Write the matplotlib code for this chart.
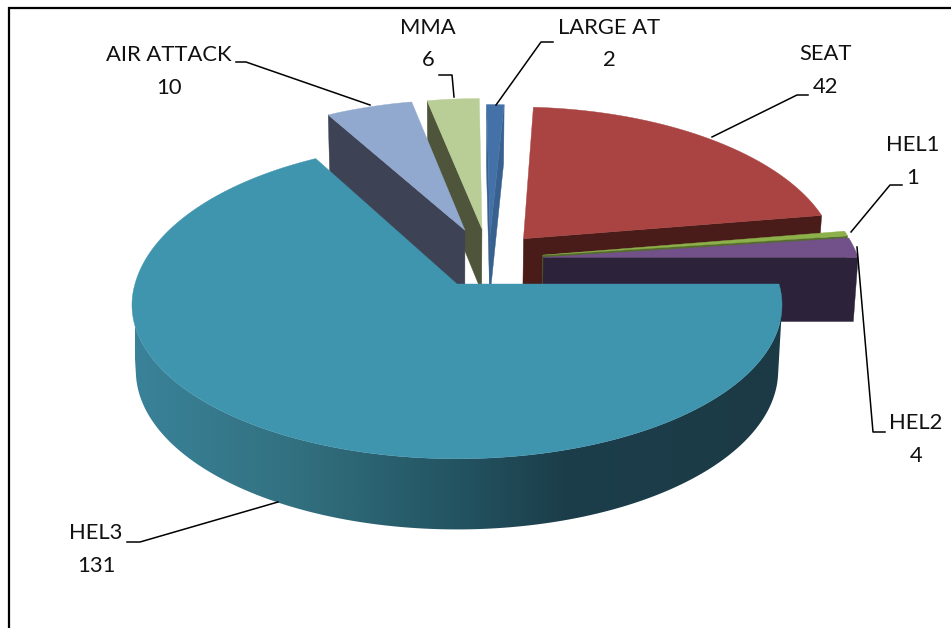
import numpy as np
import matplotlib
matplotlib.use('Agg')
import matplotlib.pyplot as plt
from matplotlib.colors import LinearSegmentedColormap
from matplotlib.patches import Polygon

names = ['LARGE AT', 'SEAT', 'HEL1', 'HEL2', 'HEL3', 'AIR ATTACK', 'MMA']
values = [2, 42, 1, 4, 131, 10, 6]
top_colors = ['#4472A8', '#A94442', '#8CB04A', '#725089', '#3F94AE', '#92A9CF', '#B9CD96']
wall_colors = ['#38618F', '#4A1C19', '#556B2F', '#2C2239', '#1B3B47', '#3D4355', '#4F553B']

# back slices first, HEL3 sits on top of everything
draw_order = ['LARGE AT', 'MMA', 'AIR ATTACK', 'SEAT', 'HEL1', 'HEL2', 'HEL3']

# pie geometry, in pixels
CX, CY = 457, 284
RX = 322
RY_BACK, RY_FRONT = 161, 151
DEPTH = 65
PERSP = 0.136
SQUEEZE = 0.012
EXPLODE = 0.1825
# small corrections the simple perspective above does not get right
nudge = {'LARGE AT': (3, 3), 'MMA': (2, -3), 'AIR ATTACK': (-1, -3)}

wall_grad = LinearSegmentedColormap.from_list('hel3', [
    (0.0, '#3A8299'), (0.25, '#32707F'), (0.5, '#235361'), (0.66, '#1C3E4A'), (1.0, '#1B3A46')])


def project(u, v, z=0.0, shift=(0, 0)):
    w = 1 + PERSP * v
    ry = RY_BACK if v >= 0 else RY_FRONT
    x = CX + RX * u / (w * (1 + SQUEEZE * z))
    y = CY - ry * v / w + DEPTH * z / (1 + 0.08 * v)
    return x + shift[0], y + shift[1]


def visible(a, b, b2, a2):
    pts = np.array([a, b, b2, a2])
    xs, ys = pts[:, 0], pts[:, 1]
    return np.sum(xs * np.roll(ys, -1) - np.roll(xs, -1) * ys) < 0


total = sum(values)
ends = np.cumsum(values) / total * 2 * np.pi
starts = ends - np.array(values) / total * 2 * np.pi
mids = (starts + ends) / 2
ref = names.index('HEL3')

fig = plt.figure(figsize=(9.51, 6.28), dpi=100)
ax = fig.add_axes([0, 0, 1, 1])
ax.axis('off')

for name in draw_order:
    i = names.index(name)
    ou = EXPLODE * (np.sin(mids[i]) - np.sin(mids[ref]))
    ov = EXPLODE * (np.cos(mids[i]) - np.cos(mids[ref]))
    n = max(int((ends[i] - starts[i]) * 60), 4)
    th = np.linspace(starts[i], ends[i], n)
    us = np.concatenate([[ou], ou + np.sin(th)])
    vs = np.concatenate([[ov], ov + np.cos(th)])
    shift = nudge.get(name, (0, 0))
    top = [project(u, v, 0, shift) for u, v in zip(us, vs)]
    low = [project(u, v, 1, shift) for u, v in zip(us, vs)]
    # radial cut faces first, outer wall after
    for k in [0, len(us) - 1]:
        j = (k + 1) % len(us)
        if visible(top[k], top[j], low[j], low[k]):
            quad = np.array([top[k], top[j], low[j], low[k]])
            ax.fill(quad[:, 0], quad[:, 1], color=wall_colors[i], lw=0.3)
    keep = [k for k in range(1, len(us) - 1) if visible(top[k], top[k + 1], low[k + 1], low[k])]
    if keep:
        idx = keep + [keep[-1] + 1]
        outline = np.array([top[k] for k in idx] + [low[k] for k in idx[::-1]])
        if name == 'HEL3':
            # the wall fades from left to right, one gradient clipped to the wall
            grad = np.linspace(0, 1, 400).reshape(1, -1)
            patch = Polygon(outline, closed=True, transform=ax.transData, fc='none', ec='none')
            ax.add_patch(patch)
            im = ax.imshow(grad, cmap=wall_grad, extent=(135, 785, 545, 280), aspect='auto', zorder=1.5)
            im.set_clip_path(patch)
        else:
            ax.fill(outline[:, 0], outline[:, 1], color=wall_colors[i], lw=0.3)
    face = np.array(top)
    ax.fill(face[:, 0], face[:, 1], color=top_colors[i], lw=0.3, zorder=1.6 if name == 'HEL3' else 1)

ax.set_xlim(0, 951)
ax.set_ylim(628, 0)

# frame, only the left and top lines are in the picture
ax.plot([9, 9, 951], [628, 7.5, 7.5], color='black', lw=1.6, solid_joinstyle='miter')

# labels
label_pos = {'LARGE AT': (609, 28, 60), 'SEAT': (826, 54, 87), 'HEL1': (913, 145, 178),
             'HEL2': (916, 423, 456), 'HEL3': (96, 533, 566), 'AIR ATTACK': (169, 55, 88),
             'MMA': (428, 28, 60)}
leaders = {'LARGE AT': [(553, 42), (541, 42), (496, 105)],
           'SEAT': [(808, 95), (797, 95), (712, 137)],
           'HEL1': [(902, 185), (890, 185), (851, 232)],
           'HEL2': [(885, 432), (873, 432), (857, 247)],
           'HEL3': [(127, 542), (140, 542), (278, 502)],
           'AIR ATTACK': [(236, 62), (246, 62), (370, 105)],
           'MMA': [(439, 75), (452, 75), (454, 97)]}
for name, val in zip(names, values):
    x, y1, y2 = label_pos[name]
    ax.text(x, y1, name, family='Lato', fontsize=15.8, ha='center', va='center', color='#111111')
    ax.text(x, y2, str(val), family='Lato', fontsize=15.8, ha='center', va='center', color='#111111')
    pts = np.array(leaders[name])
    ax.plot(pts[:, 0], pts[:, 1], color='black', lw=1.1)

fig.savefig('out.png', dpi=100)
